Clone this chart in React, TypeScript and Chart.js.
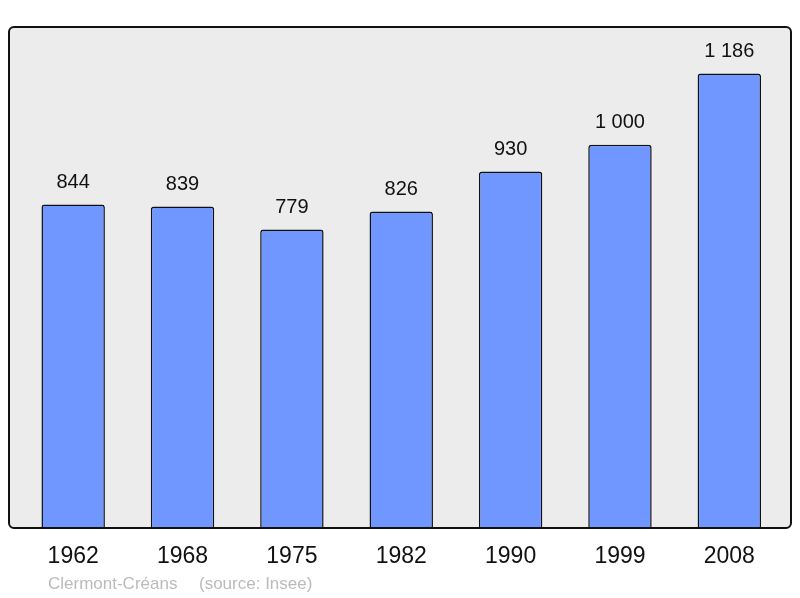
import React, { useEffect, useRef } from "react";
import { Chart, registerables } from "chart.js";

Chart.register(...registerables);

const years = ["1962", "1968", "1975", "1982", "1990", "1999", "2008"];
const population = [844, 839, 779, 826, 930, 1000, 1186];
const valueLabels = ["844", "839", "779", "826", "930", "1 000", "1 186"];
const footerName = "Clermont-Créans";
const footerSource = "(source: Insee)";

const FONT = "'Liberation Sans', Arial, sans-serif";

const framePlugin = {
  id: "frame",
  beforeDraw(chart: any) {
    const { ctx, chartArea } = chart;
    const x0 = chartArea.left - 9.5;
    const x1 = chartArea.right + 7;
    const y0 = chartArea.top;
    const y1 = chartArea.bottom;
    ctx.save();
    ctx.beginPath();
    ctx.roundRect(x0, y0, x1 - x0, y1 - y0, 5);
    ctx.fillStyle = "#ececec";
    ctx.fill();
    ctx.restore();
  },
  afterDatasetsDraw(chart: any) {
    const { ctx, chartArea } = chart;
    const x0 = chartArea.left - 9.5;
    const x1 = chartArea.right + 7;
    const y0 = chartArea.top;
    const y1 = chartArea.bottom;
    ctx.save();
    ctx.beginPath();
    ctx.roundRect(x0, y0, x1 - x0, y1 - y0, 5);
    ctx.lineWidth = 2;
    ctx.strokeStyle = "#111";
    ctx.stroke();
    const xs = chart.scales.x;
    const ys = chart.scales.y;
    ctx.fillStyle = "#111";
    ctx.textAlign = "center";
    ctx.textBaseline = "middle";
    ctx.font = `20px ${FONT}`;
    population.forEach((v, i) => {
      const px = xs.getPixelForValue(i);
      const py = ys.getPixelForValue(v);
      ctx.fillText(valueLabels[i], px, py - 22);
    });
    ctx.font = `23px ${FONT}`;
    years.forEach((y, i) => {
      ctx.fillText(y, xs.getPixelForValue(i), chartArea.bottom + 29);
    });
    ctx.font = `17px ${FONT}`;
    ctx.fillStyle = "#bbbbbb";
    ctx.textAlign = "left";
    ctx.fillText(footerName, 48, chartArea.bottom + 56);
    ctx.fillText(footerSource, 199, chartArea.bottom + 56);
    ctx.restore();
  },
};

export default function App() {
  const ref = useRef<HTMLCanvasElement>(null);
  useEffect(() => {
    if (!ref.current) return;
    const chart = new Chart(ref.current, {
      type: "bar",
      data: {
        labels: years,
        datasets: [
          {
            data: population,
            backgroundColor: "#7097ff",
            borderColor: "#111",
            borderWidth: 1.5,
            borderRadius: 3,
            borderSkipped: "bottom",
            barPercentage: 0.58,
            categoryPercentage: 1,
          },
        ],
      },
      options: {
        animation: false,
        responsive: false,
        layout: { padding: { left: 18.5, right: 16, top: 27, bottom: 70 } },
        plugins: { legend: { display: false }, tooltip: { enabled: false } },
        scales: {
          x: { display: false },
          y: { display: false, min: 0, max: 1307 },
        },
      },
      plugins: [framePlugin],
    });
    return () => chart.destroy();
  }, []);
  return (
    <div style={{ position: "fixed", left: 0, top: 0, width: 800, height: 598, background: "#fff" }}>
      <canvas ref={ref} width={800} height={598} style={{ width: 800, height: 598 }} />
    </div>
  );
}
